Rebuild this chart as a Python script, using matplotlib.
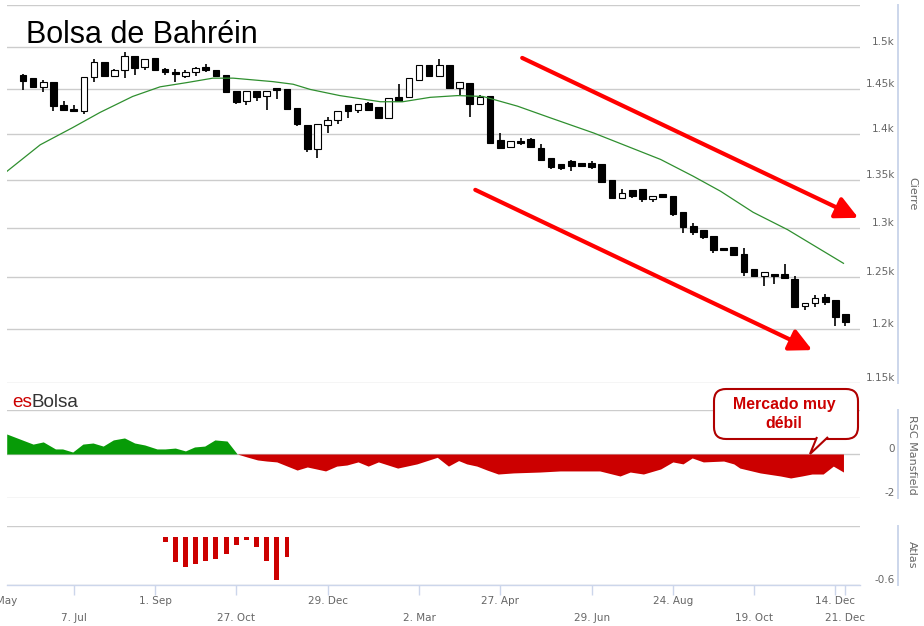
import numpy as np
import matplotlib
matplotlib.use('Agg')
import matplotlib.pyplot as plt
import matplotlib.dates as mdates
import matplotlib.transforms as mtransforms
from matplotlib.patches import FancyBboxPatch, Polygon
from matplotlib.ticker import NullLocator

# weekly candles, first week starts Mon 2 Jun 2014
first_week = np.datetime64('2014-06-02')
opens = [1467, 1463, 1453, 1458, 1432, 1428, 1425, 1464, 1482, 1466,
         1472, 1489, 1476, 1486, 1474, 1470, 1465, 1470, 1476, 1473,
         1467, 1448, 1437, 1448, 1442, 1452, 1450, 1429, 1410, 1383,
         1410, 1416, 1432, 1427, 1435, 1430, 1418, 1441, 1441, 1461,
         1478, 1466, 1478, 1452, 1457, 1433, 1442, 1393, 1386, 1392,
         1394, 1385, 1374, 1367, 1370, 1368, 1368, 1367, 1350, 1331,
         1339, 1340, 1330, 1335, 1333, 1316, 1302, 1298, 1292, 1279,
         1280, 1273, 1258, 1251, 1253, 1253, 1248, 1222, 1225, 1231,
         1228, 1214]
highs = [1468, 1463, 1461, 1458, 1437, 1432, 1464, 1485, 1482, 1474,
         1493, 1489, 1485, 1486, 1475, 1474, 1473, 1476, 1479, 1473,
         1467, 1448, 1448, 1448, 1448, 1452, 1450, 1429, 1410, 1411,
         1419, 1426, 1432, 1433, 1436, 1430, 1440, 1456, 1463, 1478,
         1478, 1485, 1478, 1459, 1457, 1444, 1442, 1401, 1392, 1395,
         1396, 1389, 1374, 1367, 1371, 1368, 1370, 1367, 1350, 1340,
         1339, 1340, 1333, 1335, 1333, 1316, 1305, 1298, 1292, 1279,
         1280, 1279, 1258, 1255, 1253, 1263, 1251, 1225, 1233, 1234,
         1228, 1214]
lows = [1449, 1452, 1447, 1425, 1426, 1424, 1422, 1458, 1464, 1465,
        1463, 1467, 1473, 1472, 1467, 1458, 1463, 1465, 1470, 1465,
        1447, 1434, 1432, 1437, 1427, 1439, 1428, 1409, 1380, 1374,
        1401, 1411, 1418, 1423, 1425, 1418, 1417, 1437, 1441, 1461,
        1464, 1466, 1452, 1444, 1419, 1433, 1390, 1385, 1386, 1388,
        1386, 1371, 1362, 1361, 1360, 1364, 1362, 1348, 1331, 1331,
        1331, 1327, 1327, 1332, 1312, 1295, 1293, 1289, 1274, 1277,
        1272, 1251, 1251, 1242, 1244, 1249, 1221, 1218, 1221, 1223,
        1203, 1203]
closes = [1460, 1453, 1458, 1431, 1427, 1426, 1464, 1482, 1465, 1473,
          1489, 1475, 1485, 1472, 1470, 1468, 1470, 1475, 1472, 1466,
          1447, 1436, 1448, 1441, 1448, 1449, 1428, 1411, 1383, 1411,
          1416, 1426, 1426, 1433, 1427, 1418, 1440, 1437, 1463, 1478,
          1465, 1478, 1452, 1459, 1433, 1441, 1390, 1385, 1392, 1390,
          1386, 1371, 1364, 1363, 1365, 1365, 1364, 1348, 1331, 1336,
          1333, 1330, 1333, 1332, 1314, 1301, 1296, 1291, 1277, 1277,
          1272, 1255, 1251, 1255, 1251, 1249, 1221, 1225, 1230, 1226,
          1212, 1207]

# moving average (weeks after first_week, value)
ma_week = [-1.6, 1.7, 4.9, 7.6, 10.8, 13.5, 16.2, 18.7, 20.7, 24.6, 26.6,
           28.3, 31.2, 35.2, 37.4, 40.1, 42.8, 45.3, 48.7, 51.9, 56.2,
           62.8, 66.0, 68.7, 71.9, 75.3, 80.8]
ma_value = [1359, 1388, 1407, 1424, 1442, 1453, 1458, 1463, 1463, 1459, 1456,
            1450, 1443, 1436, 1436, 1441, 1443, 1442, 1431, 1418, 1401,
            1372, 1354, 1338, 1316, 1298, 1264]

# RSC Mansfield
rsc_week = [-1.6, 1.0, 2.0, 3.2, 3.9, 4.9, 5.9, 6.9, 7.9, 8.9, 10.0, 11.0,
            12.0, 13.2, 14.0, 15.0, 16.0, 16.9, 17.9, 18.9, 20.1, 21.1,
            22.1, 23.1, 24.0, 25.0, 27.0, 28.0, 29.8, 30.9, 31.9, 33.0,
            34.0, 35.0, 36.9, 38.8, 40.8, 41.9, 42.9, 43.7, 44.7, 45.7,
            46.8, 48.3, 50.9, 52.9, 54.9, 56.8, 58.8, 59.8, 61.1, 62.8,
            64.0, 65.0, 65.9, 67.0, 69.0, 70.0, 70.6, 72.6, 74.6, 75.6,
            76.7, 77.7, 78.8, 79.8, 80.8]
rsc_value = [0.91, 0.45, 0.55, 0.23, 0.23, 0.09, 0.45, 0.50, 0.36, 0.64, 0.73,
             0.50, 0.41, 0.23, 0.23, 0.27, 0.14, 0.32, 0.36, 0.64, 0.59, 0.0,
             -0.14, -0.27, -0.32, -0.36, -0.73, -0.59, -0.77, -0.55, -0.50,
             -0.36, -0.55, -0.36, -0.64, -0.45, -0.15, -0.55, -0.30, -0.45,
             -0.55, -0.73, -0.91, -0.86, -0.82, -0.77, -0.77, -0.77, -1.00,
             -0.82, -0.91, -0.68, -0.36, -0.45, -0.18, -0.36, -0.32, -0.45,
             -0.64, -0.86, -1.00, -1.09, -1.00, -0.91, -0.91, -0.55, -0.82]

# Atlas bars
atlas_week = list(range(14, 27))
atlas_value = [-0.06, -0.31, -0.375, -0.34, -0.30, -0.275, -0.21, -0.10,
               -0.04, -0.125, -0.30, -0.54, -0.25]

price_ticks = [1150, 1200, 1250, 1300, 1350, 1400, 1450, 1500, 1550]
price_labels = ['1.15k', '1.2k', '1.25k', '1.3k', '1.35k', '1.4k', '1.45k', '1.5k', '']
row1_dates = ['2014-09-01', '2014-12-29', '2015-04-27', '2015-08-24', '2015-12-14']
row1_labels = ['1. Sep', '29. Dec', '27. Apr', '24. Aug', '14. Dec']
row2_dates = ['2014-07-07', '2014-10-27', '2015-03-02', '2015-06-29', '2015-10-19', '2015-12-21']
row2_labels = ['7. Jul', '27. Oct', '2. Mar', '29. Jun', '19. Oct', '21. Dec']

W, H = 924, 626
GRID = '#cccccc'
AXLINE = '#ccd6eb'
TXT = '#666666'


def box(l, t, r, b):
    return [l / W, 1 - b / H, (r - l) / W, (b - t) / H]


def main():
    t0 = mdates.date2num(first_week)
    fig = plt.figure(figsize=(W / 100, H / 100), dpi=100)
    ax = fig.add_axes(box(7, 5, 860, 383))
    ax_rsc = fig.add_axes(box(7, 410, 860, 498), sharex=ax)
    ax_atl = fig.add_axes(box(7, 526, 860, 585), sharex=ax)

    # candles
    x = t0 + 7 * np.arange(len(opens))
    o, h, l, c = (np.array(v, dtype=float) for v in (opens, highs, lows, closes))
    up = c >= o
    lo = np.minimum(o, c)
    hi = np.maximum(o, c)
    ax.set_yscale('log')
    ax.vlines(x, l, h, color='black', lw=1.2, zorder=2)
    ax.bar(x, hi - lo, bottom=lo, width=4.6,
           color=np.where(up, 'white', 'black'), edgecolor='black', lw=0.8, zorder=3)
    ax.plot(t0 + 7 * np.array(ma_week), ma_value, color='#2f8f2f', lw=0.9, zorder=4)

    ax.set_ylim(1150, 1550)
    ax.set_yticks(price_ticks, price_labels)
    ax.yaxis.set_minor_locator(NullLocator())
    ax.set_xlim(t0 - 11, t0 + 577)

    # red trend arrows
    arrow = dict(arrowstyle='-|>,head_length=0.9,head_width=0.45', color='#ff0000',
                 lw=3.0, mutation_scale=15, shrinkA=0, shrinkB=0)
    ax.annotate('', xy=(0.998, 0.437), xytext=(0.604, 0.860), xycoords='axes fraction',
                arrowprops=arrow)
    ax.annotate('', xy=(0.944, 0.087), xytext=(0.549, 0.511), xycoords='axes fraction',
                arrowprops=arrow)

    # RSC area
    rx = t0 + 7 * np.array(rsc_week)
    rv = np.array(rsc_value)
    ax_rsc.fill_between(rx, 0, rv, where=rv >= 0, interpolate=True, color='#079b07', lw=0)
    ax_rsc.fill_between(rx, 0, rv, where=rv <= 0, interpolate=True, color='#cc0000', lw=0)
    ax_rsc.set_ylim(-2, 2)
    ax_rsc.set_yticks([-2, 0, 2], ['-2', '0', ''])

    # Atlas bars
    ax_atl.bar(t0 + 7 * np.array(atlas_week), atlas_value, width=3.4, color='#cc0000', lw=0)
    ax_atl.set_ylim(-0.6, 0.1375)
    ax_atl.set_yticks([-0.6, 0.1375], ['-0.6', ''])

    for a in (ax, ax_rsc, ax_atl):
        for s in ('top', 'left', 'bottom'):
            a.spines[s].set_visible(False)
        a.spines['right'].set_position(('outward', 38 * 0.72))
        a.spines['right'].set_color(AXLINE)
        a.spines['right'].set_linewidth(1.4)
        a.yaxis.tick_right()
        a.tick_params(axis='y', length=0, pad=-2.2, labelsize=7.5, labelcolor=TXT)
        a.grid(axis='y', color=GRID, lw=1)
        a.set_axisbelow(True)
        a.tick_params(axis='x', which='both', bottom=False, labelbottom=False)
        for t in a.yaxis.get_major_ticks():
            t.label2.set_horizontalalignment('right')
            t.label2.set_verticalalignment('bottom')

    # x axis with two staggered rows of labels
    ax_atl.spines['bottom'].set_visible(True)
    ax_atl.spines['bottom'].set_color(AXLINE)
    ax_atl.spines['bottom'].set_linewidth(1)
    ax_atl.set_xticks(mdates.date2num(np.array(row1_dates, dtype='datetime64[D]')), row1_labels)
    ax_atl.set_xticks(mdates.date2num(np.array(row2_dates, dtype='datetime64[D]')), row2_labels,
                      minor=True)
    ax_atl.tick_params(axis='x', which='both', bottom=True, labelbottom=True, length=7.2,
                       width=1, color=AXLINE, labelsize=7.5, labelcolor=TXT)
    ax_atl.tick_params(axis='x', which='major', pad=1)
    ax_atl.tick_params(axis='x', which='minor', pad=13)
    # first label sits partly outside the figure, as in the source chart
    trans = mtransforms.blended_transform_factory(ax_atl.transData, fig.transFigure)
    ax_atl.text(mdates.date2num(np.datetime64('2014-05-15')), 1 - 601 / H, '12. May',
                transform=trans, ha='center', va='center', fontsize=7.5, color=TXT, clip_on=False)

    # titles
    fig.text(26 / W, 1 - 43 / H, 'Bolsa de Bahréin', fontsize=22, family='Liberation Sans',
             ha='left', va='baseline', color='black')
    t_es = fig.text(12 / W, 1 - 407 / H, 'es', fontsize=13.6, family='Liberation Sans',
                    ha='left', va='baseline', color='#cc0000')
    ax_rsc.annotate('Bolsa', xy=(1, 0), xycoords=t_es, ha='left', va='bottom', fontsize=13.6,
                    family='Liberation Sans', color='#333333')

    for label, yc in (('Cierre', 194), ('RSC Mansfield', 455), ('Atlas', 555)):
        fig.text(912 / W, 1 - yc / H, label, rotation=270, ha='center', va='center',
                 fontsize=8, color=TXT)

    # callout
    inch = fig.dpi_scale_trans
    red = '#b00000'
    fig.patches.append(FancyBboxPatch((7.14, (H - 439) / 100), 1.44, 0.50,
                                      boxstyle='round,pad=0,rounding_size=0.12',
                                      transform=inch, facecolor='white', edgecolor=red, lw=1.5))
    fig.patches.append(Polygon([(8.17, (H - 437) / 100), (8.10, (H - 454) / 100),
                                (8.28, (H - 437) / 100)], closed=False, transform=inch,
                               facecolor='white', edgecolor=red, lw=1.5))
    for txt, yc in (('Mercado muy', 405), ('débil', 423)):
        fig.text(784 / W, 1 - yc / H, txt, ha='center', va='center', fontsize=11.4,
                 fontweight='bold', family='Liberation Sans', color='#cc0000')

    fig.savefig('out.png', dpi=100)


if __name__ == "__main__":
    main()
